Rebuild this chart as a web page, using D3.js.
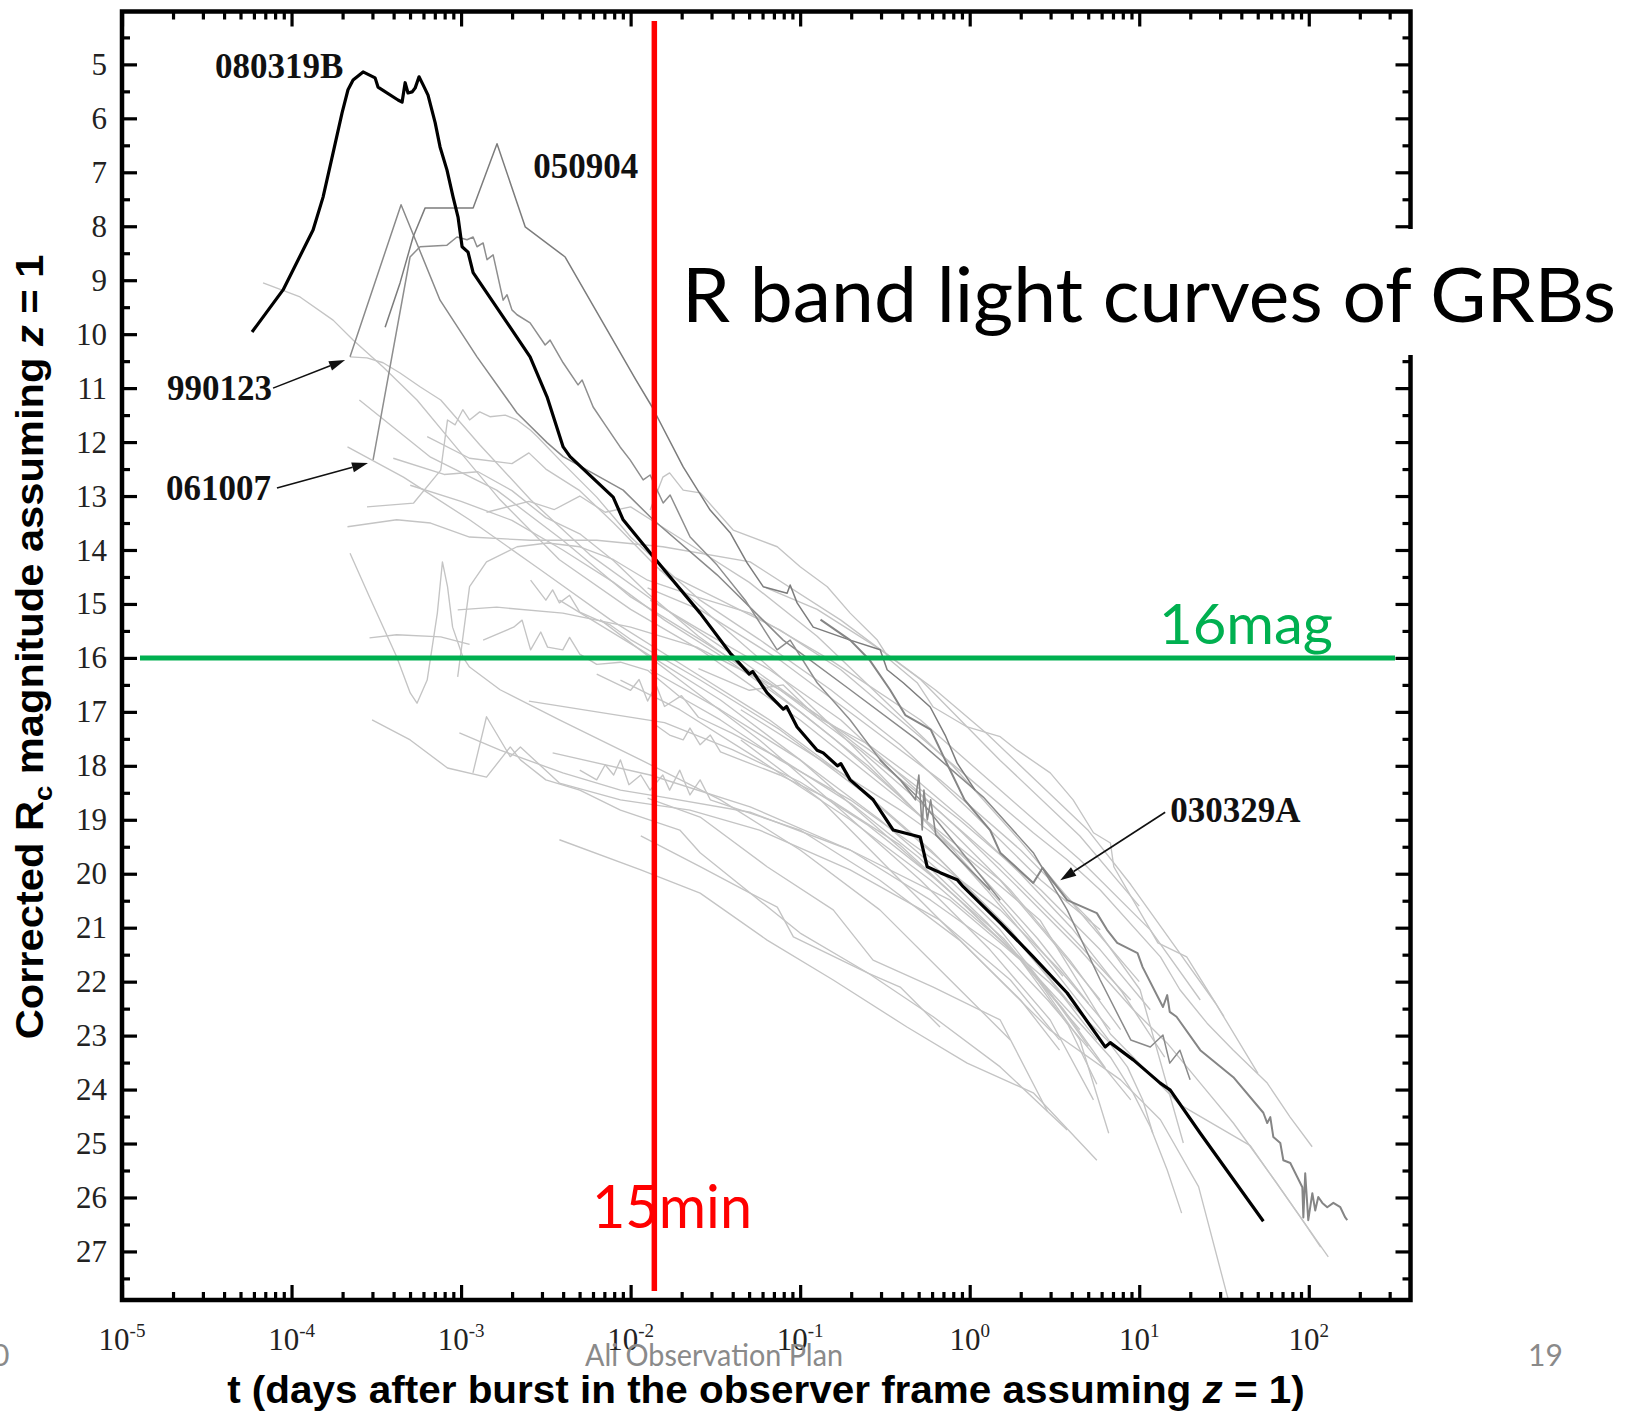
<!DOCTYPE html>
<html><head><meta charset="utf-8">
<script src="https://cdn.jsdelivr.net/npm/d3@7"></script>
<style>body{margin:0;background:#fff;} svg{display:block;}</style>
</head><body>
<svg id="chart" width="1633" height="1412"></svg>
<script>
// ---------- DATA (each point: [log10(t in days), corrected Rc magnitude]) ----------
const xTickExponents = [-5,-4,-3,-2,-1,0,1,2];
const yTickLabels = [5,6,7,8,9,10,11,12,13,14,15,16,17,18,19,20,21,22,23,24,25,26,27];

const grb080319B = [[-4.233,9.96],[-4.05,9.18],[-3.873,8.07],[-3.814,7.46],[-3.755,6.64],[-3.702,5.90],[-3.667,5.47],[-3.637,5.29],[-3.578,5.14],[-3.507,5.25],[-3.49,5.42],[-3.372,5.66],[-3.348,5.70],[-3.33,5.34],[-3.313,5.53],[-3.289,5.51],[-3.271,5.44],[-3.248,5.23],[-3.224,5.38],[-3.195,5.57],[-3.153,6.08],[-3.124,6.53],[-3.083,6.96],[-3.047,7.46],[-3.018,7.83],[-2.994,8.38],[-2.959,8.48],[-2.929,8.86],[-2.847,9.24],[-2.711,9.87],[-2.593,10.42],[-2.493,11.16],[-2.398,12.09],[-2.357,12.27],[-2.103,13.02],[-2.044,13.44],[-1.885,14.05],[-1.767,14.50],[-1.59,15.17],[-1.413,15.91],[-1.30,16.30],[-1.28,16.25],[-1.195,16.65],[-1.10,16.95],[-1.08,16.90],[-1.018,17.28],[-0.90,17.71],[-0.864,17.76],[-0.78,18.00],[-0.76,17.96],[-0.705,18.26],[-0.569,18.63],[-0.451,19.19],[-0.292,19.32],[-0.251,19.87],[-0.174,19.98],[-0.074,20.11],[-0.038,20.24],[0.18,20.91],[0.375,21.54],[0.575,22.21],[0.77,23.08],[0.799,23.21],[0.829,23.13],[0.965,23.45],[1.124,23.88],[1.183,24.01],[1.36,24.81],[1.732,26.44]];

const grb050904 = [[-3.448,9.87],[-3.36,9.05],[-3.283,8.20],[-3.212,7.66],[-2.929,7.66],[-2.788,6.47],[-2.622,8.01],[-2.386,8.57],[-1.968,10.85],[-1.873,11.35],[-1.69,12.46],[-1.531,13.26],[-1.413,13.68],[-1.313,14.24],[-1.218,14.68],[-1.077,14.80],[-1.059,14.65],[-1.018,14.98],[-0.923,15.43],[-0.705,15.67],[-0.528,15.85],[-0.487,16.22],[-0.392,16.46],[-0.233,16.91],[-0.145,17.43],[-0.074,17.95],[0.032,18.45]];

const grb990123 = [[-3.655,10.42],[-3.354,7.60],[-3.124,9.37],[-2.906,10.42],[-2.67,11.46],[-2.493,12.01],[-2.398,12.27],[-2.044,12.89],[-1.867,13.44],[-1.49,14.46],[-1.10,15.67],[-0.705,16.59],[-0.31,17.52],[0.08,18.58],[0.375,19.61],[0.575,20.67],[0.77,21.97],[0.95,23.08],[1.065,23.21],[1.14,22.99],[1.18,23.51],[1.24,23.27],[1.30,23.82]];

const grb061007 = [[-3.519,12.33],[-3.301,8.57],[-3.242,8.38],[-3.083,8.35],[-3.024,8.20],[-2.965,8.25],[-2.929,8.20],[-2.906,8.38],[-2.87,8.31],[-2.847,8.62],[-2.811,8.53],[-2.752,9.37],[-2.729,9.27],[-2.70,9.55],[-2.67,9.64],[-2.593,9.79],[-2.504,10.20],[-2.475,10.11],[-2.398,10.53],[-2.31,10.94],[-2.286,10.85],[-2.221,11.35],[-2.15,11.68],[-2.062,12.09],[-2.003,12.33],[-1.926,12.70],[-1.885,12.61],[-1.808,13.13],[-1.767,12.98],[-1.649,13.76],[-1.49,14.28],[-1.324,14.93],[-1.136,15.85],[-1.059,15.67],[-0.90,16.46],[-0.705,17.15],[-0.528,17.89],[-0.292,18.63],[-0.056,19.56],[0.18,20.49]];

const grb030329A = [[-0.88,15.29],[-0.705,15.67],[-0.59,16.04],[-0.47,16.59],[-0.38,17.06],[-0.23,17.33],[-0.145,17.89],[-0.03,18.63],[0.12,19.19],[0.18,19.61],[0.375,20.17],[0.43,19.89],[0.575,20.49],[0.75,20.73],[0.81,21.04],[0.87,21.28],[0.99,21.47],[1.02,21.73],[1.14,22.47],[1.165,22.25],[1.18,22.56],[1.22,22.65],[1.36,23.27],[1.555,23.77],[1.732,24.43],[1.755,24.62],[1.773,24.51],[1.791,24.88],[1.832,24.99],[1.85,25.31],[1.891,25.36],[1.932,25.62],[1.962,25.81],[1.968,26.37],[1.979,25.55],[1.997,26.42],[2.021,25.92],[2.038,26.24],[2.056,25.99],[2.08,26.10],[2.109,26.18],[2.145,26.10],[2.186,26.18],[2.215,26.37],[2.227,26.42]];

const grbDarkNoisy = [[-0.53,17.89],[-0.41,18.26],[-0.32,18.63],[-0.30,18.17],[-0.28,19.19],[-0.27,18.45],[-0.25,19.0],[-0.23,18.63],[-0.20,19.28],[-0.115,19.56],[0.12,20.30]];

const otherGRBs = [
 [[-4.168,9.05],[-3.95,9.31],[-3.755,9.74],[-3.637,10.11],[-3.46,10.61],[-3.26,11.22],[-3.065,11.96],[-2.77,13.07],[-2.42,14.18],[-2.0,15.1],[-1.59,15.85],[-1.0,17.15],[-0.41,18.63],[0.18,20.12],[0.53,21.41],[0.77,22.34]],
 [[-3.655,10.42],[-3.555,10.44],[-3.46,10.53],[-3.36,10.72],[-3.24,10.98],[-3.12,11.22],[-2.89,12.05],[-2.59,13.07],[-2.24,14.09],[-1.83,15.02],[-1.35,16.04],[-0.82,17.24],[-0.29,18.54],[0.18,19.84],[0.59,21.13],[0.95,22.34]],
 [[-3.60,11.22],[-3.18,12.28],[-2.79,12.89],[-2.40,13.82],[-2.0,14.87],[-1.59,15.66],[-1.12,16.59],[-0.59,17.71],[-0.06,19.0],[0.42,20.3],[0.77,21.41],[1.065,22.52]],
 [[-3.67,12.09],[-3.34,12.65],[-2.95,13.44],[-2.53,14.37],[-2.12,15.29],[-1.65,16.22],[-1.18,17.15],[-0.705,18.26],[-0.23,19.56],[0.18,20.86],[0.475,21.97],[0.75,23.08]],
 [[-3.555,13.2],[-3.28,13.13],[-3.12,12.52],[-3.08,11.59],[-3.035,11.68],[-2.99,11.40],[-2.95,11.59],[-2.89,11.44],[-2.83,11.53],[-2.74,11.50],[-2.67,11.59],[-2.59,11.78],[-2.55,11.90],[-2.40,12.39],[-2.20,13.02],[-2.0,13.76],[-1.81,14.31],[-1.59,14.93],[-1.24,15.66],[-0.82,16.59],[-0.41,17.61],[0.0,18.82],[0.42,20.12],[0.77,21.04]],
 [[-3.67,13.57],[-3.38,13.44],[-3.18,13.50],[-2.95,13.76],[-2.59,13.82],[-2.20,13.82],[-1.81,13.94],[-1.295,14.22],[-0.76,15.3],[-0.29,16.4],[0.18,17.9],[0.65,19.3],[1.0,20.6]],
 [[-1.885,13.26],[-1.81,12.65],[-1.77,12.57],[-1.69,12.89],[-1.59,12.94],[-1.395,13.63],[-1.135,13.94],[-1.0,14.31],[-0.84,14.68],[-0.705,15.17],[-0.545,15.67],[-0.47,16.04],[-0.31,16.46],[-0.215,16.91],[-0.015,17.28],[0.18,17.46],[0.28,17.71],[0.475,18.13],[0.61,18.63],[0.73,19.24],[0.83,19.43],[0.85,19.87],[1.11,21.28],[1.28,21.54],[1.50,22.65]],
 [[-3.655,14.06],[-3.54,14.87],[-3.38,15.98],[-3.30,16.65],[-3.26,16.84],[-3.20,16.41],[-3.14,15.17],[-3.11,14.22],[-3.08,14.68],[-3.05,15.43],[-2.99,15.98],[-2.95,16.17],[-2.77,16.59],[-2.42,17.15],[-1.94,17.89],[-1.47,18.63],[-1.0,19.56],[-0.53,20.67],[-0.115,21.97],[0.24,23.08]],
 [[-3.54,15.63],[-3.38,15.57],[-3.12,15.61],[-2.95,15.75]],
 [[-3.02,16.35],[-2.95,14.68],[-2.85,14.22],[-2.67,13.94],[-2.49,13.87],[-2.30,13.94],[-2.10,14.18],[-1.90,14.56],[-1.61,14.87],[-1.295,15.17],[-0.82,16.04],[-0.29,17.15],[0.18,18.45],[0.65,19.74],[1.065,21.04],[1.36,22.34]],
 [[-3.02,15.11],[-2.79,15.06],[-2.40,15.17],[-2.0,15.43],[-1.61,15.80],[-1.12,16.59],[-0.645,17.71],[-0.175,19.0],[0.24,20.3],[0.59,21.6],[0.89,22.89]],
 [[-2.87,15.67],[-2.69,15.43],[-2.64,15.3],[-2.59,15.85],[-2.53,15.52],[-2.49,15.80],[-2.40,15.85],[-2.36,15.62],[-2.30,15.93],[-2.20,16.12],[-2.06,16.08],[-1.90,16.23],[-1.71,16.72],[-1.47,17.15],[-1.12,17.89],[-0.705,18.63],[-0.29,19.56],[0.18,20.67],[0.53,21.78],[0.83,22.89]],
 [[-2.59,14.56],[-2.50,14.93],[-2.46,14.74],[-2.42,14.98],[-2.36,14.84],[-2.30,15.15],[-2.20,15.29],[-2.12,15.39],[-2.0,15.66],[-1.59,16.41],[-1.12,17.33],[-0.645,18.45],[-0.175,19.74],[0.24,21.04],[0.575,22.34]],
 [[-3.01,17.39],[-2.77,17.71],[-2.40,18.13],[-2.06,18.45],[-1.81,18.58],[-1.295,18.86],[-0.705,19.56],[-0.23,20.49],[0.18,21.41],[0.46,22.34],[0.71,23.27],[0.95,24.19]],
 [[-3.525,17.15],[-3.30,17.52],[-3.08,18.04],[-2.85,18.21],[-2.71,17.65],[-2.65,17.89],[-2.50,18.26],[-2.30,18.45],[-2.06,18.82],[-1.71,19.19],[-1.59,19.61],[-1.0,21.1],[-0.60,21.84],[-0.215,22.65],[0.18,23.58],[0.575,24.75]],
 [[-2.93,18.13],[-2.85,17.09],[-2.71,17.83],[-2.65,17.65],[-2.42,18.32],[-2.06,18.63],[-1.65,18.82],[-1.24,19.19],[-0.705,19.93],[-0.175,20.86],[0.24,21.97],[0.53,23.08]],
 [[-2.46,17.76],[-1.885,18.17],[-1.295,18.76],[-0.705,19.56],[-0.115,20.49],[0.3,21.6],[0.58,22.8],[0.75,23.9]],
 [[-2.42,19.37],[-1.94,19.93],[-1.59,20.36],[-1.195,21.23],[-0.805,21.97],[-0.37,22.84],[-0.015,23.51],[0.375,24.06],[0.75,25.31]],
 [[-1.94,19.3],[-1.59,19.87],[-1.295,20.36],[-1.135,20.62],[-1.04,21.17],[-0.60,21.84],[-0.41,22.10],[-0.175,22.84]],
 [[-1.9,18.6],[-1.59,18.95],[-1.195,19.87],[-0.805,20.67],[-0.57,21.6],[-0.215,22.1],[0.18,22.71],[0.46,24.41]],
 [[-2.18,15.29],[-1.71,16.41],[-1.24,17.52],[-0.76,18.82],[-0.29,20.12],[0.12,21.41],[0.475,22.71],[0.73,24.19]],
 [[-2.42,14.93],[-1.94,15.85],[-1.47,16.78],[-1.0,17.89],[-0.53,19.19],[-0.06,20.49],[0.36,21.78],[0.65,23.08],[0.82,24.81]],
 [[-1.9,14.7],[-1.59,15.11],[-1.12,16.04],[-0.645,17.15],[-0.175,18.26],[0.30,19.56],[0.71,20.86],[1.005,22.15],[1.26,24.99]],
 [[-2.30,18.08],[-2.20,18.26],[-2.15,17.98],[-2.10,18.17],[-2.06,17.89],[-2.01,18.35],[-1.94,18.17],[-1.885,18.45],[-1.81,18.17],[-1.77,18.45],[-1.71,18.08],[-1.65,18.54],[-1.59,18.26],[-1.53,18.63],[-1.35,18.82],[-1.0,19.19],[-0.53,20.12],[-0.06,21.23],[0.30,22.34],[0.53,23.27]],
 [[-1.855,17.24],[-1.77,17.43],[-1.69,17.52],[-1.65,17.30],[-1.59,17.61],[-1.53,17.43],[-1.47,17.74],[-1.35,17.89],[-1.12,18.17],[-0.82,18.63],[-0.41,19.47],[-0.06,20.49],[0.30,21.6],[0.65,22.89]],
 [[-1.83,14.37],[-1.47,14.93],[-1.12,15.48],[-0.76,16.22],[-0.41,17.15],[-0.06,18.08],[0.375,19.24],[0.575,19.74],[0.77,20.30],[1.125,21.54],[1.24,22.15],[1.40,22.77],[1.555,23.27],[1.755,23.88],[1.89,24.51],[2.02,25.06]],
 [[-1.885,14.93],[-1.59,15.48],[-1.18,16.22],[-0.76,17.15],[-0.41,18.17],[-0.06,19.19],[0.30,20.30],[0.65,21.41],[0.965,22.52],[1.165,23.14],[1.36,23.88],[1.555,24.62],[1.67,25.12],[1.81,25.73],[1.95,26.36],[2.07,26.92]],
 [[-1.885,16.22],[-1.47,16.96],[-1.0,17.89],[-0.53,19.0],[-0.115,20.12],[0.18,21.04],[0.415,21.97],[0.67,22.84],[0.83,23.40],[0.965,24.07],[1.065,24.69],[1.165,25.49],[1.25,26.29]],
 [[-1.35,17.52],[-0.88,18.63],[-0.41,20.12],[0.06,21.6],[0.475,22.9],[0.89,23.82],[1.125,24.56],[1.35,25.80],[1.53,27.95]],
 [[-1.35,16.96],[-0.88,17.89],[-0.41,18.82],[0.0,19.74],[0.415,20.86],[0.83,22.97],[1.24,24.28],[1.655,25.04],[2.115,27.10]],
 [[-2.06,16.41],[-1.71,16.96],[-1.24,17.89],[-0.705,19.0],[-0.23,20.12],[0.18,21.23],[0.475,22.03],[0.67,22.65],[0.81,23.08],[0.93,23.58],[1.02,24.19],[1.08,24.81]],
 [[-3.40,12.3],[-3.1,12.6],[-2.9,12.55],[-2.7,12.9],[-2.5,13.4],[-2.3,13.7],[-2.1,14.2],[-1.9,14.8],[-1.6,15.6],[-1.2,16.5],[-0.8,17.5],[-0.4,18.6],[0.0,19.8],[0.4,21.2],[0.7,22.4]],
 [[-3.2,11.9],[-2.95,12.3],[-2.7,12.4],[-2.6,12.2],[-2.5,12.5],[-2.3,12.9],[-2.1,13.5],[-1.85,14.3],[-1.5,15.3],[-1.1,16.4],[-0.7,17.6],[-0.3,18.9],[0.1,20.3],[0.5,21.8],[0.85,23.2]],
 [[-2.85,13.3],[-2.6,13.1],[-2.45,13.25],[-2.3,13.0],[-2.15,13.3],[-2.0,13.2],[-1.85,13.5],[-1.6,14.0],[-1.3,14.6],[-0.9,15.6],[-0.5,16.8],[-0.1,18.0],[0.3,19.4],[0.7,20.9],[1.0,22.0]],
 [[-2.2,16.3],[-2.0,16.6],[-1.95,16.4],[-1.9,16.8],[-1.85,16.5],[-1.8,16.9],[-1.7,16.7],[-1.6,17.1],[-1.4,17.4],[-1.1,17.9],[-0.7,18.7],[-0.3,19.7],[0.1,20.9],[0.45,22.1],[0.7,23.2]],
 [[-2.6,16.8],[-2.2,17.0],[-1.8,17.2],[-1.4,17.7],[-1.0,18.3],[-0.6,19.1],[-0.2,20.1],[0.2,21.2],[0.55,22.5],[0.8,23.6]],
 [[-1.6,16.2],[-1.3,16.6],[-1.1,16.5],[-0.9,17.1],[-0.6,17.6],[-0.3,18.3],[0.0,19.1],[0.3,20.0],[0.6,21.0],[0.9,22.2],[1.15,23.4]],
 [[-1.2,14.7],[-0.9,15.1],[-0.7,15.5],[-0.5,15.9],[-0.2,16.6],[0.1,17.4],[0.4,18.3],[0.7,19.2],[0.95,20.2],[1.2,21.3],[1.45,22.4],[1.7,23.7]],
 [[-3.3,12.8],[-3.0,13.1],[-2.7,13.45],[-2.4,14.0],[-2.1,14.6],[-1.8,15.3],[-1.4,16.1],[-1.0,17.0],[-0.6,18.0],[-0.2,19.2],[0.2,20.6],[0.55,21.9]]
];

// labels: [name, log10 t, mag] at text baseline-left
const curveLabels = [["080319B",-4.451,5.25],["050904",-2.575,7.10],["990123",-4.735,11.22],["061007",-4.74,13.07],["030329A",1.183,19.04]];
// arrows: [from lg, from mag, to lg, to mag]
const labelArrows = [[-4.109,11.0,-3.684,10.48],[-4.086,12.85,-3.549,12.39],[1.153,18.86,0.534,20.12]];
const limitMag = 16;          // green line
const limitTimeDays = 0.0138; // red line (marked "15min")

// ---------- SCALES ----------
const svg = d3.select("#chart");
const L = 122, R = 1410.5, T = 11.5, B = 1300;
const x = d3.scaleLog().domain([1e-5, Math.pow(10, 2.6)]).range([L, R]);
const y = d3.scaleLinear().domain([4.02, 27.9]).range([T, B]);
const px = d => x(Math.pow(10, d[0]));
const line = d3.line().x(px).y(d => y(d[1]));

svg.append("clipPath").attr("id","plot").append("rect")
  .attr("x",L).attr("y",T).attr("width",R-L).attr("height",B-T);
const g = svg.append("g").attr("clip-path","url(#plot)");

g.selectAll("path.other").data(otherGRBs).join("path").attr("class","other")
  .attr("d", line).attr("fill","none").attr("stroke","#c4c4c4").attr("stroke-width",1.35).attr("stroke-linejoin","round");

const darkStyle = [[grb990123,"#8a8a8a",1.5],[grb061007,"#8e8e8e",1.5],[grb050904,"#7c7c7c",1.5],[grb030329A,"#858585",2],[grbDarkNoisy,"#8a8a8a",1.6]];
darkStyle.forEach(([d,c,w]) => g.append("path").attr("d", line(d)).attr("fill","none").attr("stroke",c).attr("stroke-width",w).attr("stroke-linejoin","round"));
g.append("path").attr("d", line(grb080319B)).attr("fill","none").attr("stroke","#000").attr("stroke-width",3.2).attr("stroke-linejoin","round");

// ---------- AXES ----------
const majorsX = xTickExponents.map(e => Math.pow(10, e));
const minorsX = [];
xTickExponents.forEach(e => { for (let k = 2; k <= 9; k++) { const v = k * Math.pow(10, e); if (v <= Math.pow(10, 2.6)) minorsX.push(v); } });
const minorsY = d3.range(4.5, 28, 1);

function styleAxis(sel){ sel.select(".domain").remove(); sel.selectAll(".tick line").attr("stroke","#000").attr("stroke-width",3.2); sel.selectAll("text").remove(); }
[[d3.axisBottom, B],[d3.axisTop, T]].forEach(([ax, pos]) => {
  svg.append("g").attr("transform",`translate(0,${pos})`).call(ax(x).tickValues(majorsX).tickSize(-15).tickFormat("")).call(styleAxis);
  svg.append("g").attr("transform",`translate(0,${pos})`).call(ax(x).tickValues(minorsX).tickSize(-8).tickFormat("")).call(styleAxis);
});
[[d3.axisLeft, L],[d3.axisRight, R]].forEach(([ax, pos]) => {
  svg.append("g").attr("transform",`translate(${pos},0)`).call(ax(y).tickValues(yTickLabels).tickSize(-15).tickFormat("")).call(styleAxis);
  svg.append("g").attr("transform",`translate(${pos},0)`).call(ax(y).tickValues(minorsY).tickSize(-8).tickFormat("")).call(styleAxis);
});
svg.append("rect").attr("x",L).attr("y",T).attr("width",R-L).attr("height",B-T)
  .attr("fill","none").attr("stroke","#000").attr("stroke-width",4.5);

// tick labels
svg.append("g").selectAll("text").data(yTickLabels).join("text")
  .attr("x",107).attr("y",d => y(d)).attr("dy","0.34em").attr("text-anchor","end")
  .attr("font-family","'Liberation Serif', serif").attr("font-size",31).attr("fill","#222").text(d => d);
const xl = svg.append("g").selectAll("text").data(xTickExponents).join("text")
  .attr("x",e => x(Math.pow(10,e))).attr("y",1350).attr("text-anchor","middle")
  .attr("font-family","'Liberation Serif', serif").attr("font-size",31).attr("fill","#222");
xl.append("tspan").text("10");
xl.append("tspan").attr("dy",-13).attr("font-size",19).text(e => e);

// axis titles
function fitWidth(sel, target){ const w = sel.node().getComputedTextLength(); return target / w; }
const yt = svg.append("text").attr("font-family","'Liberation Sans', Arial, sans-serif").attr("font-weight","bold")
  .attr("font-size",38).attr("text-anchor","middle").attr("fill","#000");
yt.append("tspan").text("Corrected R");
yt.append("tspan").attr("font-size",25).attr("dy",9).text("c");
yt.append("tspan").attr("dy",-9).text(" magnitude assuming ");
yt.append("tspan").attr("font-style","italic").text("z");
yt.append("tspan").text(" = 1");
const sy = fitWidth(yt, 785);
yt.attr("transform",`translate(43,647) rotate(-90) scale(${sy},1)`);

const xt = svg.append("text").attr("font-family","'Liberation Sans', Arial, sans-serif").attr("font-weight","bold")
  .attr("font-size",38).attr("text-anchor","middle").attr("fill","#000");
xt.append("tspan").text("t (days after burst in the observer frame assuming ");
xt.append("tspan").attr("font-style","italic").text("z");
xt.append("tspan").text(" = 1)");
const sx = fitWidth(xt, 1078);
xt.attr("transform",`translate(766,1403) scale(${sx},1)`);

// curve labels and arrows
svg.append("g").selectAll("text").data(curveLabels).join("text")
  .attr("x",d => x(Math.pow(10,d[1]))).attr("y",d => y(d[2]))
  .attr("font-family","'Liberation Serif', serif").attr("font-weight","bold").attr("font-size",35).attr("fill","#111")
  .text(d => d[0]);
labelArrows.forEach(a => {
  const x1 = x(Math.pow(10,a[0])), y1 = y(a[1]), x2 = x(Math.pow(10,a[2])), y2 = y(a[3]);
  const dx = x2-x1, dy = y2-y1, len = Math.hypot(dx,dy), ux = dx/len, uy = dy/len;
  const hl = 16, hw = 5;
  const bx = x2-ux*hl, by = y2-uy*hl;
  svg.append("line").attr("x1",x1).attr("y1",y1).attr("x2",bx).attr("y2",by).attr("stroke","#111").attr("stroke-width",1.6);
  svg.append("path").attr("d",`M${x2},${y2}L${bx-uy*hw},${by+ux*hw}L${bx+uy*hw},${by-ux*hw}Z`).attr("fill","#111");
});

// limit lines
svg.append("line").attr("x1",140).attr("x2",1395).attr("y1",y(limitMag)).attr("y2",y(limitMag))
  .attr("stroke","#00b050").attr("stroke-width",5);
svg.append("line").attr("x1",x(limitTimeDays)).attr("x2",x(limitTimeDays)).attr("y1",21).attr("y2",1291)
  .attr("stroke","#ff0000").attr("stroke-width",5.5);

// slide annotations
svg.append("rect").attr("x",662).attr("y",229).attr("width",971).attr("height",126).attr("fill","#fff");
const slideFont = "Lato, 'Open Sans', sans-serif";
svg.append("text").attr("x",682).attr("y",322).attr("font-family",slideFont).attr("font-size",76).attr("fill","#000")
  .attr("textLength",934).attr("lengthAdjust","spacingAndGlyphs").text("R band light curves of GRBs");
svg.append("text").attr("x",1159).attr("y",644).attr("font-family",slideFont).attr("font-size",56).attr("fill","#00b050")
  .attr("textLength",174).attr("lengthAdjust","spacingAndGlyphs").text("16mag");
svg.append("text").attr("x",592).attr("y",1228).attr("font-family",slideFont).attr("font-size",60).attr("fill","#ff0000")
  .attr("textLength",160).attr("lengthAdjust","spacingAndGlyphs").text("15min");
svg.append("text").attr("x",585).attr("y",1366).attr("font-family",slideFont).attr("font-size",30).attr("fill","#8a8a8a")
  .attr("textLength",258).attr("lengthAdjust","spacingAndGlyphs").text("Ali Observation Plan");
svg.append("text").attr("x",1528).attr("y",1366).attr("font-family",slideFont).attr("font-size",30).attr("fill","#8a8a8a").text("19");
svg.append("text").attr("x",-8).attr("y",1366).attr("font-family",slideFont).attr("font-size",30).attr("fill","#8a8a8a").text("0");
</script>
</body></html>
